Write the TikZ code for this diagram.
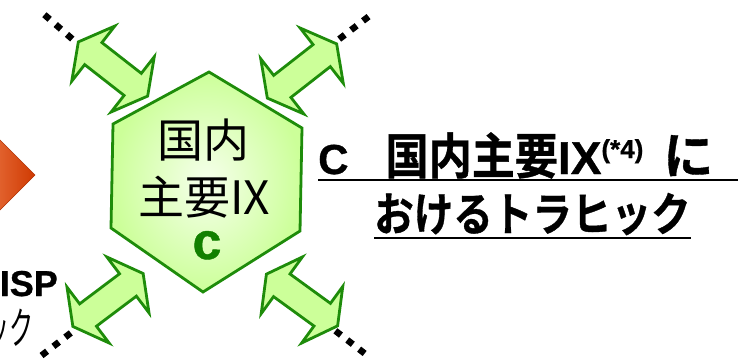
\documentclass[tikz,border=0pt]{standalone}
\usepackage{fontspec}
\setmainfont{Liberation Sans}
\newfontfamily\latb[FakeBold=0.8]{Liberation Sans Bold}
\newfontfamily\jp{Noto Sans CJK JP}
\newfontfamily\jpb[FakeBold=0.8]{Noto Sans CJK JP Bold}
\definecolor{hexline}{HTML}{1E8C0A}
\definecolor{hexfill}{HTML}{CCFF99}
\definecolor{hexin}{HTML}{F6FFEC}
\definecolor{cgreen}{HTML}{128000}
\definecolor{orL}{HTML}{E2622E}
\definecolor{orR}{HTML}{CF3A02}
\tikzset{
  arrowstyle/.style={draw=hexline, fill=hexfill, line width=2.8pt, line join=miter},
  dblarrow/.pic={\path[arrowstyle] (-44,0) -- (-25,35) -- (-25,14) -- (25,14) -- (25,35) -- (44,0) -- (25,-35) -- (25,-14) -- (-25,-14) -- (-25,-35) -- cycle;},
  dotline/.style={line width=6.5pt, dash pattern=on 7pt off 8pt},
}
\begin{document}
\begin{tikzpicture}[x=1pt,y=-1pt]
\useasboundingbox (0,0) rectangle (738,361);
% orange triangle
\shade[left color=orL, right color=orR, draw=orR!85!black, line width=0.6pt] (-2,138) -- (35,175) -- (-2,212) -- cycle;
% dotted lines
\draw[dotline] (44.4,14.7) -- (72.6,39.3);
\draw[dotline] (339.2,39.1) -- (370.8,14.9);
\draw[dotline] (70.8,332.9) -- (39.5,357.1);
\draw[dotline] (335.4,330.8) -- (370,357.6);
% arrows
\pic[rotate=-38] at (113,69) {dblarrow};
\pic[rotate=38] at (302,71) {dblarrow};
\pic[rotate=37] at (108,300) {dblarrow};
\pic[rotate=-36] at (302,300) {dblarrow};
% hexagon
\coordinate (h1) at (209,72);
\coordinate (h2) at (302,128);
\coordinate (h3) at (300,231);
\coordinate (h4) at (203,292);
\coordinate (h5) at (111,228);
\coordinate (h6) at (113,124);
\path[shade, inner color=hexin, outer color=hexfill, draw=hexline, line width=2.8pt, line join=miter]
  (h1) -- (h2) -- (h3) -- (h4) -- (h5) -- (h6) -- cycle;
\node[font=\jp\fontsize{46}{46}\selectfont, inner sep=0] (k1) at (203,140) {国内};
\node[font=\jp\fontsize{46}{46}\selectfont, inner sep=0] (k2) at (204,197) {主要IX};
\node[font=\latb\fontsize{52}{52}\selectfont, text=cgreen, inner sep=0, anchor=base] (k3) at (207,259) {c};
% right title
\node[inner sep=0, anchor=base west] (t1) at (318,174) {\latb\fontsize{42}{42}\selectfont C\hspace{37pt}\scalebox{0.88}[1]{\jpb\fontsize{49}{49}\selectfont 国内主要}\fontsize{46}{46}\selectfont IX\raisebox{16pt}{\fontsize{26}{26}\selectfont (*4)}\hspace{20pt}{\jpb\fontsize{50}{50}\selectfont に}};
\node[inner sep=0, anchor=base west] (t2) at (374,231) {\scalebox{0.86}[1]{\jpb\fontsize{46}{46}\selectfont おけるトラヒック}};
\draw[line width=2.4pt] (318,180) -- (740,180);
\draw[line width=2.4pt] (374,238) -- (691,238);
% left partial labels
\node[inner sep=0, anchor=base east] (l1) at (58,296) {\latb\fontsize{36}{36}\selectfont ISP};
\node[inner sep=0, anchor=base east] (l2) at (34,344) {\scalebox{0.55}[1]{\jp\fontsize{44}{44}\selectfont ック}};
\end{tikzpicture}
\end{document}
